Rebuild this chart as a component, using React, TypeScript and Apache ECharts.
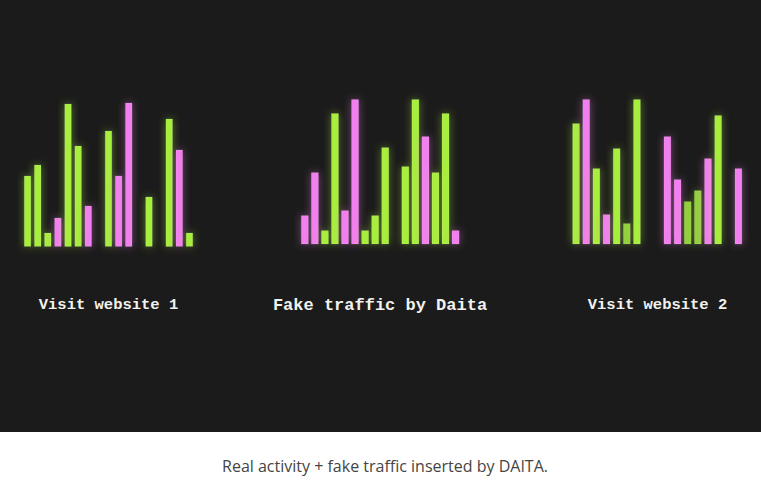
import React, { useEffect, useRef } from "react";
import * as echarts from "echarts";

const slots1 = ["1","2","3","4","5","6","7","8","9","10","11","12","13","14","15","16","17"];
const values1 = [71, 82, 14, 29, 143, 101, 41, null, 116, 71, 144, null, 50, null, 128, 97, 14];
const kinds1 = ["g","g","g","p","g","g","p",null,"g","p","p",null,"g",null,"g","p","g"];

const slots2 = ["1","2","3","4","5","6","7","8","9","10","11","12","13","14","15","16"];
const values2 = [29, 72, 14, 131, 34, 145, 14, 29, 97, null, 78, 145, 108, 72, 131, 14];
const kinds2 = ["p","p","g","g","p","p","g","g","g",null,"g","g","p","g","g","p"];

const slots3 = ["1","2","3","4","5","6","7","8","9","10","11","12","13","14","15","16","17"];
const values3 = [121, 145, 76, 30, 96, 21, 145, null, null, 108, 65, 43, 54, 86, 129, null, 76];
const kinds3 = ["g","p","g","p","g","d","g",null,null,"p","p","d","d","p","g",null,"p"];

const groupTitles = ["Visit website 1", "Fake traffic by Daita", "Visit website 2"];
const caption = "Real activity + fake traffic inserted by DAITA.";

const COLORS: Record<string, string> = { g: "#a8ee3e", d: "#94d03c", p: "#f27fee" };
const GLOW: Record<string, string> = { g: "rgba(168,238,62,0.45)", d: "rgba(148,208,60,0.4)", p: "rgba(242,127,238,0.45)" };

function buildData(values: (number | null)[], kinds: (string | null)[]) {
  return values.map((v, i) => {
    const k = kinds[i];
    if (v === null || !k) return "-";
    return {
      value: v,
      itemStyle: {
        color: COLORS[k],
        borderColor: "rgba(255,255,255,0.18)",
        borderWidth: 0.6,
        shadowBlur: 8,
        shadowColor: GLOW[k],
      },
    };
  });
}

export default function App() {
  const ref = useRef<HTMLDivElement>(null);
  useEffect(() => {
    if (!ref.current) return;
    const chart = echarts.init(ref.current, null, { renderer: "svg" });
    const grids = [
      { left: 22.5, top: 96.7, width: 172, height: 150 },
      { left: 299.8, top: 94.3, width: 160.8, height: 150 },
      { left: 571, top: 94.3, width: 172.5, height: 150 },
    ];
    const slots = [slots1, slots2, slots3];
    const series = [
      buildData(values1, kinds1),
      buildData(values2, kinds2),
      buildData(values3, kinds3),
    ];
    const barWidths = [7.2, 7.7, 7.5];
    const titleCenters = [108.5, 380, 657.5];
    const titleSizes = [15.5, 17, 15.5];
    chart.setOption({
      animation: false,
      backgroundColor: "#ffffff",
      graphic: [
        {
          type: "rect",
          z: -10,
          shape: { x: 0, y: 0, width: 761, height: 432 },
          style: { fill: "#1b1b1b" },
          silent: true,
        },
        ...groupTitles.map((t, i) => ({
          type: "text",
          x: titleCenters[i],
          y: 305,
          z: 10,
          style: {
            text: t,
            fill: "#f2f2ee",
            font: `bold ${titleSizes[i]}px 'Liberation Mono', monospace`,
            align: "center",
            verticalAlign: "middle",
            shadowBlur: 4,
            shadowColor: "rgba(255,255,255,0.35)",
          },
        })),
        {
          type: "text",
          x: 385,
          y: 466,
          style: {
            text: caption,
            fill: "#454545",
            font: "16px 'Open Sans', sans-serif",
            align: "center",
            verticalAlign: "middle",
          },
        },
      ],
      grid: grids,
      xAxis: grids.map((_, i) => ({
        type: "category",
        gridIndex: i,
        data: slots[i],
        show: false,
      })),
      yAxis: grids.map((_, i) => ({
        type: "value",
        gridIndex: i,
        min: 0,
        max: 150,
        show: false,
      })),
      series: series.map((d, i) => ({
        type: "bar",
        xAxisIndex: i,
        yAxisIndex: i,
        data: d,
        barWidth: barWidths[i],
        silent: true,
      })),
    });
    return () => chart.dispose();
  }, []);
  return (
    <div
      ref={ref}
      style={{ position: "fixed", left: 0, top: 0, width: 761, height: 483 }}
    />
  );
}
